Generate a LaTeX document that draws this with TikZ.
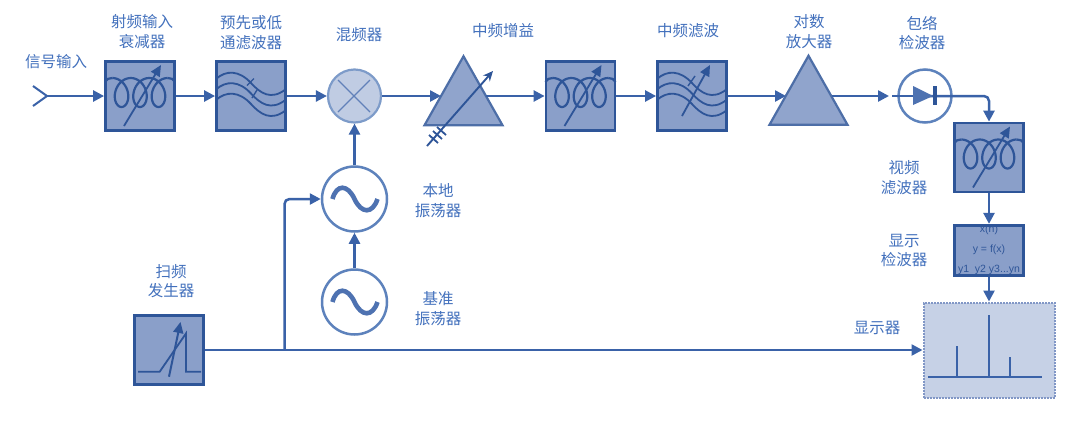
\documentclass[tikz,border=0pt]{standalone}
\usepackage{fontspec}
\setmainfont{Liberation Sans}
\newfontfamily\cjkfont{Noto Sans CJK SC}
\usetikzlibrary{arrows.meta,shapes.geometric}
\definecolor{boxfill}{HTML}{8A9FC9}
\definecolor{boxline}{HTML}{2E5598}
\definecolor{wire}{HTML}{3A62A8}
\definecolor{labelc}{HTML}{4270BC}
\definecolor{mixfill}{HTML}{C0CCE3}
\definecolor{ringc}{HTML}{5D82BC}
\definecolor{dispfill}{HTML}{C6D1E6}
\definecolor{dispedge}{HTML}{8197C6}
\tikzset{
  x=1pt,y=-1pt,
  blockbox/.style={draw=boxline,fill=boxfill,line width=2.8pt,minimum size=69pt,inner sep=0pt,rectangle},
  ringnode/.style={circle,draw=ringc,fill=white,line width=2.5pt,inner sep=0pt},
  amptri/.style={isosceles triangle,isosceles triangle stretches,shape border rotate=90,draw=boxline!85!white,fill=boxfill!95!white,line width=2.2pt,inner sep=0pt,minimum height=69pt,minimum width=78pt},
  lbl/.style={text=labelc,align=center,inner sep=0pt,font=\cjkfont\fontsize{15.5}{19.5}\selectfont},
  conn/.style={draw=wire,line width=2.5pt,-{Triangle[length=11pt,width=11pt]}},
  plainwire/.style={draw=wire,line width=2.5pt},
  sym/.style={draw=boxline,line width=2.2pt},
  tuner/.style={draw=boxline,line width=1.8pt,-{Triangle[length=11pt,width=10pt]}},
  coilsym/.pic={
    \draw[sym,smooth] plot[domain=-540:540,samples=121] ({2.94*\x*pi/180-11*sin(\x)},{-3.5+14.5*cos(\x)});
    \draw[sym] (-27.7,-18) .. controls (-31,-18) and (-34,-17) .. (-35,-14);
    \draw[sym] (27.7,-18) .. controls (31,-18) and (34,-17) .. (35,-14);
    \draw[tuner] (-16,30) -- (21,-31);
  },
  wavesym/.pic={
    \foreach \d in {0,10.5,21}{
      \draw[sym,line width=1.8pt] (-35,-17+\d) .. controls (-25,-26+\d) and (-12,-26+\d) .. (0,-13+\d) .. controls (9,-3+\d) and (20,5+\d) .. (35,-7+\d);
    }
  },
  oscsym/.pic={
    \draw[draw=wire!90!white,line width=4.6pt] (-22,0) .. controls (-18,-15) and (-7,-15) .. (0,0) .. controls (7,15) and (18,15) .. (23,0);
  }
}
\begin{document}
\begin{tikzpicture}
\useasboundingbox (0,0) rectangle (1080,429);

% main blocks
\node[blockbox] (atten) at (140,96) {};
\node[blockbox] (pre) at (251,96) {};
\node[circle,draw=ringc!80!white,fill=mixfill,line width=2.2pt,minimum size=53pt,inner sep=0pt] (mix) at (354.5,96) {};
\node[amptri] (ifamp) at (463.5,102.5) {};
\node[blockbox] (ifatt) at (580.5,96) {};
\node[blockbox] (iffil) at (692,96) {};
\node[amptri] (logamp) at (808.5,102) {};
\node[ringnode,minimum size=53pt] (env) at (925,96) {};
\node[blockbox] (video) at (989,157.5) {};
\node[blockbox,minimum height=50.5pt] (det) at (989,250.5) {};
\node[rectangle,draw=dispedge,densely dotted,fill=dispfill,line width=2pt,minimum width=131pt,minimum height=95pt,inner sep=0pt] (disp) at (989,350) {};
\node[ringnode,minimum size=65pt] (lo) at (354.5,199) {};
\node[ringnode,minimum size=65pt] (refosc) at (354.5,302) {};
\node[blockbox] (sweep) at (169,350) {};

% free ends of connectors
\coordinate (ant) at (47,96);
\coordinate (ifampL) at (441,96);
\coordinate (ifampR) at (486,96);
\coordinate (logampL) at (786,96);
\coordinate (logampR) at (832,96);
\coordinate (tee) at (284.5,350);

% connectors
\draw[plainwire,line width=2pt] (33,86) -- (ant) -- (33,106);
\draw[conn] (ant) -- (atten.west);
\draw[conn] (atten.east) -- (pre.west);
\draw[conn] (pre.east) -- (mix.west);
\draw[conn] (mix.east) -- (ifampL);
\draw[conn] (ifampR) -- (ifatt.west);
\draw[conn] (ifatt.east) -- (iffil.west);
\draw[conn] (iffil.east) -- (logampL);
\draw[conn] (logampR) -- (889,96);
\draw[plainwire,line width=1.8pt] (892,96) -- (env.center);
\draw[conn,rounded corners=5pt] (env.center) -| (video.north);
\draw[conn] (video.south) -- (det.north);
\draw[conn] (det.south) -- (disp.north);
\draw[conn] (sweep.east) -- (disp.west);
\draw[conn,rounded corners=5pt] (tee) |- (lo.west);
\draw[conn] (lo.north) -- (mix.south);
\draw[conn] (refosc.north) -- (lo.south);

% symbols in boxes
\pic at (atten) {coilsym};
\pic at (ifatt) {coilsym};
\pic at (video) {coilsym};
\pic at (pre) {wavesym};
\draw[sym,line width=1.4pt] (247,85.5) -- (254,78.5);
\draw[sym,line width=1.4pt] (252,98) -- (257,90);
\pic at (iffil) {wavesym};
\draw[sym,line width=1.4pt] (688,86) -- (695,76);
\draw[tuner] (682,116) -- (710,65);

% mixer cross
\draw[draw=wire!80!white,line width=1.4pt] (338,112) -- (370,80);
\draw[draw=wire!80!white,line width=1.4pt] (338,80) -- (370,112);

% IF gain tuner
\draw[draw=boxline,line width=1.9pt,-{Stealth[length=10pt,width=9pt,open]}] (427,146) -- (493,71);
\draw[draw=boxline,line width=1.8pt] (429,135) -- (438,143);
\draw[draw=boxline,line width=1.8pt] (433,131) -- (442,139);
\draw[draw=boxline,line width=1.8pt] (437,127) -- (446,135);

% diode
\fill[wire!90!white] (913,86) -- (933,96) -- (913,105) -- cycle;
\fill[boxline] (933,86) rectangle (936.5,105);

% oscillators
\pic at (lo) {oscsym};
\pic at (refosc) {oscsym};

% sweep symbol
\draw[sym,line width=1.8pt] (138,371.7) -- (159.7,371.7) -- (186,333.4) -- (186,371.7) -- (201,371.7);
\draw[tuner,line width=2pt] (169,376.7) -- (180.5,322);

% detector text
\node[text=boxline,font=\fontsize{10.5}{10}\selectfont,inner sep=0pt] (dt1) at (989,230) {x(n)};
\node[text=boxline,font=\fontsize{10.5}{10}\selectfont,inner sep=0pt] (dt2) at (989,250) {y = f(x)};
\node[text=boxline,font=\fontsize{10.5}{10}\selectfont,inner sep=0pt] (dt3) at (989,270) {y1\ \ y2\ y3...yn};

% spectrum
\draw[plainwire,line width=2pt] (928,377) -- (1042,377);
\draw[plainwire,line width=2pt] (957,377) -- (957,346);
\draw[plainwire,line width=2pt] (989,377) -- (989,315);
\draw[plainwire,line width=2pt] (1010,377) -- (1010,357);

% labels
\node[lbl] (l1) at (56,62) {信号输入};
\node[lbl] (l2) at (142,31.5) {射频输入\\衰减器};
\node[lbl] (l3) at (251,32.5) {预先或低\\通滤波器};
\node[lbl] (l4) at (359,35) {混频器};
\node[lbl] (l5) at (503,31) {中频增益};
\node[lbl] (l6) at (688,31) {中频滤波};
\node[lbl] (l7) at (809,31.5) {对数\\放大器};
\node[lbl] (l8) at (922,33) {包络\\检波器};
\node[lbl] (l9) at (904,177.5) {视频\\滤波器};
\node[lbl] (l10) at (904,250.5) {显示\\检波器};
\node[lbl] (l11) at (877,328) {显示器};
\node[lbl] (l12) at (438,200.5) {本地\\振荡器};
\node[lbl] (l13) at (438,308.5) {基准\\振荡器};
\node[lbl] (l14) at (171,281) {扫频\\发生器};
\end{tikzpicture}
\end{document}
